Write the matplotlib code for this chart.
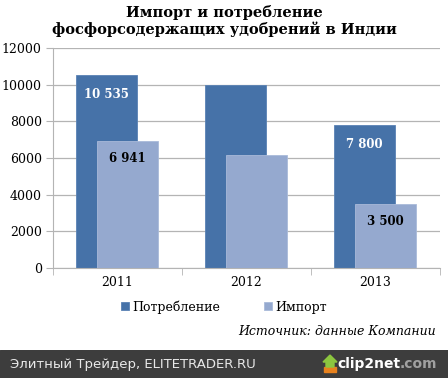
import numpy as np
import matplotlib.pyplot as plt

# данные
years = ["2011", "2012", "2013"]
potreb = [10535, 10000, 7800]
imp = [6941, 6150, 3500]
potreb_labels = ["10 535", "", "7 800"]
imp_labels = ["6 941", "", "3 500"]
yticks = [0, 2000, 4000, 6000, 8000, 10000, 12000]

c_dark = "#4672a8"
c_light = "#95a9cf"
grid_c = "#b4b4b4"

fig = plt.figure(figsize=(4.48, 3.78), dpi=100)
ax = fig.add_axes([0.118, 0.291, 0.864, 0.582])

x = np.arange(len(years))
w = 0.475
b1 = ax.bar(x - 0.085, potreb, w, color=c_dark, edgecolor="#5a82b4", linewidth=0.6, zorder=2)
b2 = ax.bar(x + 0.08, imp, w, color=c_light, edgecolor="#a9bad9", linewidth=0.6, zorder=3)

# подписи внутри столбцов
for i in range(len(years)):
    if potreb_labels[i]:
        ax.annotate(potreb_labels[i], (x[i] - 0.085, potreb[i]), xytext=(0, -14),
                    textcoords="offset points", ha="center", va="center",
                    color="white", fontsize=8.5, fontweight="bold", family="DejaVu Serif", zorder=4)
    if imp_labels[i]:
        ax.annotate(imp_labels[i], (x[i] + 0.08, imp[i]), xytext=(0, -13),
                    textcoords="offset points", ha="center", va="center",
                    color="black", fontsize=8.5, fontweight="bold", family="DejaVu Serif", zorder=4)

ax.set_xlim(-0.5, 2.5)
ax.set_ylim(0, 12000)
ax.set_yticks(yticks)
ax.set_yticklabels([str(t) for t in yticks], family="DejaVu Serif", fontsize=9)
ax.set_xticks(x)
ax.set_xticklabels(years, family="DejaVu Serif", fontsize=9)
ax.set_xticks([-0.5, 0.5, 1.5, 2.5], minor=True)
ax.tick_params(axis="x", which="major", length=0, pad=6)
ax.tick_params(axis="x", which="minor", length=5, color=grid_c)
ax.tick_params(axis="y", length=5, color=grid_c, pad=3)
ax.yaxis.grid(True, color=grid_c, linewidth=0.9, zorder=0)
ax.set_axisbelow(True)
for s in ["top", "right"]:
    ax.spines[s].set_visible(False)
ax.spines["left"].set_color(grid_c)
ax.spines["bottom"].set_color(grid_c)

fig.text(0.5, 0.945, "Импорт и потребление\nфосфорсодержащих удобрений в Индии",
         ha="center", va="center", fontsize=10.5, fontweight="bold",
         family="DejaVu Serif", linespacing=1.1)

leg = fig.legend([b1, b2], ["Потребление", "Импорт"], loc="center",
                 bbox_to_anchor=(0.5, 0.188), ncol=2, frameon=False,
                 prop={"family": "DejaVu Serif", "size": 9},
                 handlelength=0.6, handleheight=0.6, handletextpad=0.3, columnspacing=3.5)

fig.text(0.973, 0.122, "Источник: данные Компании", ha="right", va="center",
         fontsize=9, style="italic", family="DejaVu Serif")

# нижняя полоса
band = fig.add_axes([0, 0, 1, 0.074])
band.set_xlim(0, 448)
band.set_ylim(0, 28)
band.axis("off")
band.add_patch(plt.Rectangle((0, 0), 448, 28, color="#3d3d3d"))
band.text(10, 14, "Элитный Трейдер, ELITETRADER.RU", color="#e8e8e8",
          fontsize=9.5, va="center", ha="left", family="DejaVu Sans")
# значок-стрелка
band.add_patch(plt.Rectangle((324, 6), 12, 5, color="#e8821e"))
band.add_patch(plt.Polygon([[326, 11], [326, 16], [323, 16], [330, 23], [337, 16], [334, 16], [334, 11]],
                           color="#8cc63f"))
band.text(400, 14, "clip2net", color="white", fontsize=10, fontweight="bold",
          va="center", ha="right", family="DejaVu Sans")
band.text(400, 14, ".com", color="#a0a0a0", fontsize=10, fontweight="bold",
          va="center", ha="left", family="DejaVu Sans")

plt.savefig("out.png", dpi=100)
